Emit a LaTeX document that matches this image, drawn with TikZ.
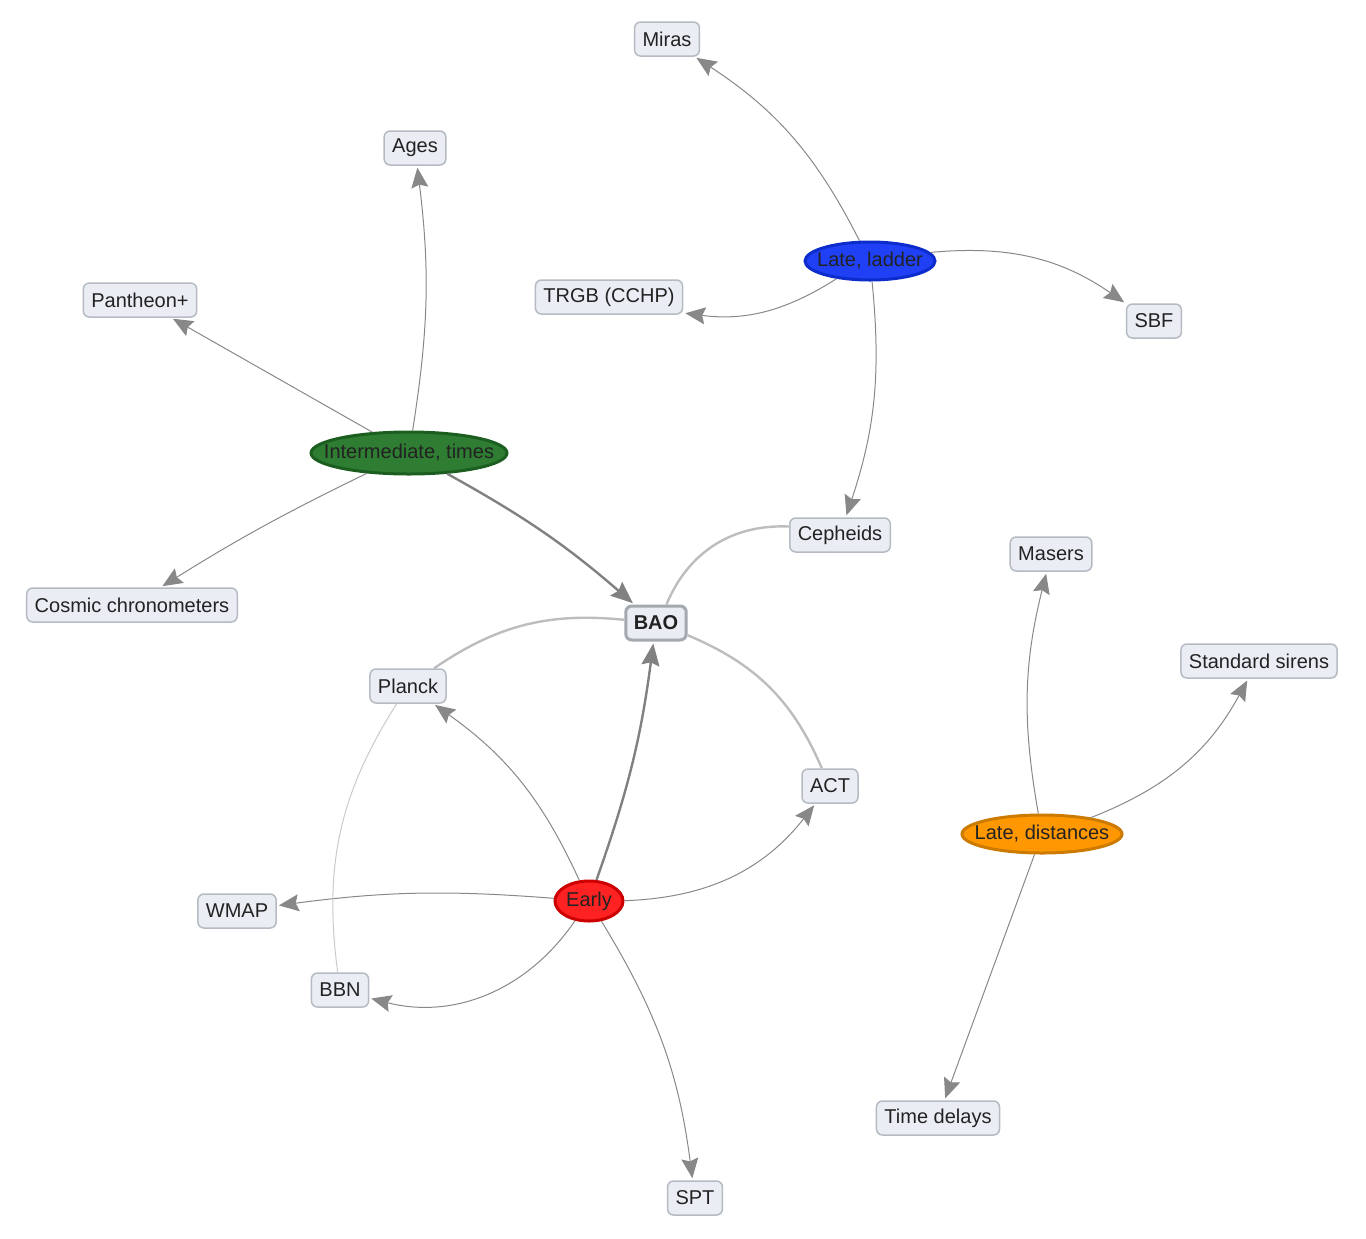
\documentclass[tikz,border=0pt]{standalone}
\usepackage{fontspec}
\setmainfont{Liberation Sans}
\usetikzlibrary{arrows.meta,shapes.geometric}
\definecolor{boxfill}{HTML}{EAEEF4}
\definecolor{boxline}{HTML}{B6BBC3}
\definecolor{inkgray}{HTML}{222222}
\definecolor{reachgray}{HTML}{888888}
\definecolor{linkgray}{HTML}{BDBDBD}
\tikzstyle{probe}=[
	rectangle,
	rounded corners=3pt,
	line width=0.75pt,
	draw=boxline,
	fill=boxfill,
	text=inkgray,
	inner xsep=4pt,
	inner ysep=0pt,
	minimum height=17pt,
	font=\fontsize{10}{12}\selectfont
]
\tikzstyle{era}=[
	ellipse,
	line width=1.5pt,
	inner sep=0pt,
	minimum height=19pt,
	text=inkgray,
	font=\fontsize{10}{12}\selectfont
]
\tikzstyle{reach}=[
	-{Stealth[length=10pt,width=8.5pt,inset=1.5pt]},
	shorten >=1pt,
	line width=0.5pt,
	draw=reachgray
]
\tikzstyle{pull}=[
	-{Stealth[length=11pt,width=9pt,inset=1.5pt]},
	shorten >=1pt,
	line width=1.2pt,
	draw=reachgray!95!black
]
\tikzstyle{link}=[
	line width=1.2pt,
	draw=linkgray
]
\newcommand{\hubtext}[1]{\makebox[0pt]{#1}}

\begin{document}
\begin{tikzpicture}[x=0.5pt,y=-0.5pt]
\useasboundingbox (0,0) rectangle (1366,1238);
% leaves
\node [probe] (Miras) at (667,39) {Miras};
\node [probe] (Ages) at (415,148) {Ages};
\node [probe] (Pantheon) at (140,300) {Pantheon+};
\node [probe] (TRGB) at (609,297) {TRGB (CCHP)};
\node [probe] (SBF) at (1154,321) {SBF};
\node [probe] (Cepheids) at (840,535) {Cepheids};
\node [probe] (Masers) at (1051,554) {Masers};
\node [probe] (Chrono) at (132,605) {Cosmic chronometers};
\node [probe, line width=1.5pt, draw=boxline!90!black, font=\fontsize{10}{12}\selectfont\bfseries] (BAO) at (656,623) {BAO};
\node [probe] (Sirens) at (1259,661) {Standard sirens};
\node [probe] (Planck) at (408,686) {Planck};
\node [probe] (ACT) at (830,786) {ACT};
\node [probe] (WMAP) at (237,911) {WMAP};
\node [probe] (BBN) at (340,990) {BBN};
\node [probe] (Delays) at (938,1118) {Time delays};
\node [probe] (SPT) at (695,1198) {SPT};

% hubs
\node [era, fill={rgb,255:red,31;green,64;blue,245}, draw={rgb,255:red,12;green,44;blue,204}, minimum width=65pt] (LateLadder) at (870,261) {\hubtext{Late, ladder}}
	edge [reach, bend right=15] (Miras)
	edge [reach, bend left=20] (TRGB)
	edge [reach, bend left=20] (SBF)
	edge [reach, bend left=12] (Cepheids);
\node [era, fill={rgb,255:red,46;green,125;blue,50}, draw={rgb,255:red,27;green,94;blue,32}, minimum width=98pt, minimum height=21pt] (Intermediate) at (409,453) {\hubtext{Intermediate, times}}
	edge [reach, bend right=8] (Ages)
	edge [reach] (Pantheon)
	edge [reach, bend right=3] (Chrono)
	edge [pull, bend left=6] (BAO);
\node [era, fill={rgb,255:red,255;green,34;blue,34}, draw={rgb,255:red,204;green,0;blue,0}, minimum width=34pt, minimum height=20pt] (Early) at (589,901) {\hubtext{Early}}
	edge [reach, bend right=15] (Planck)
	edge [pull, bend right=6] (BAO)
	edge [reach, bend right=25] (ACT)
	edge [reach, bend right=6] (WMAP)
	edge [reach, bend left=35] (BBN)
	edge [reach, bend left=12] (SPT);
\node [era, fill={rgb,255:red,255;green,152;blue,0}, draw={rgb,255:red,204;green,122;blue,0}, minimum width=80pt] (LateDist) at (1042,834) {\hubtext{Late, distances}}
	edge [reach, bend left=12] (Masers)
	edge [reach, bend right=20] (Sirens)
	edge [reach] (Delays);

% shared links
\draw [link] (BAO) to [bend left=35] (Cepheids);
\draw [link] (BAO) to [bend right=20] (Planck);
\draw [link] (BAO) to [bend left=22] (ACT);
\draw [line width=0.5pt, draw=linkgray!80] (Planck) to [bend right=20] (BBN);
\end{tikzpicture}
\end{document}
